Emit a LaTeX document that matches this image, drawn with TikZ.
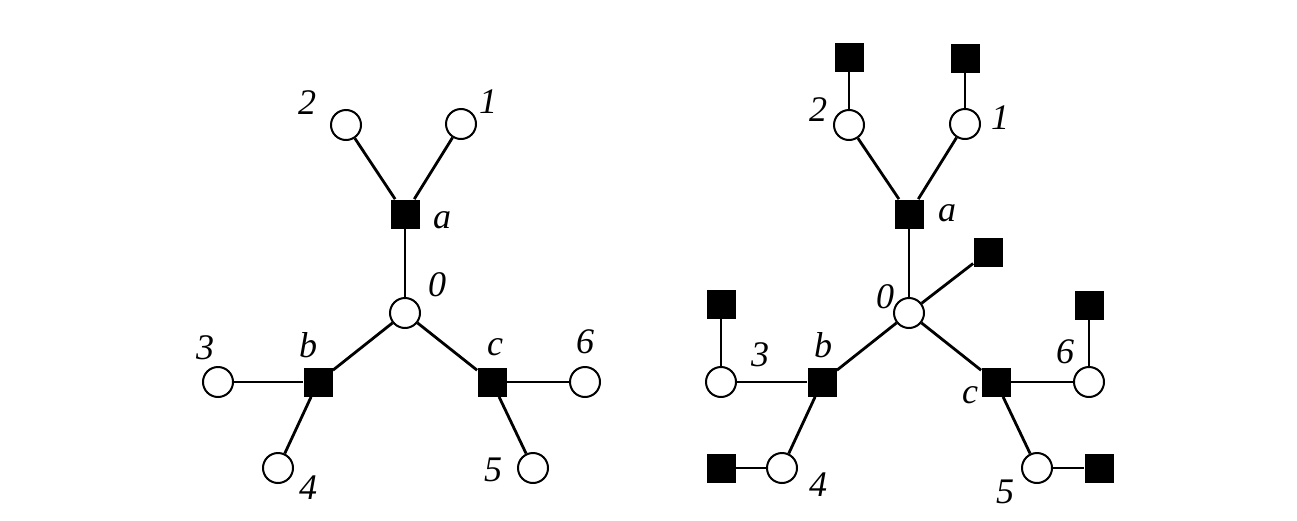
\documentclass[tikz,border=0pt]{standalone}
\usepackage{fontspec}
\setmainfont{Liberation Serif}
\usetikzlibrary{arrows}

\tikzset{
  site/.style={circle, draw, fill=white, line width=1pt, minimum size=15pt, inner sep=0pt},
  bond/.style={rectangle, fill=black, minimum size=14.5pt, inner sep=0pt},
  lbl/.style={font=\fontsize{18}{18}\selectfont\itshape, inner sep=0pt},
  edge/.style={line width=1.4pt}
}

\begin{document}
\begin{tikzpicture}[x=0.5pt,y=-0.5pt]
\useasboundingbox (0,0) rectangle (1297,520);

% left graph
\node[site] (0) at (405,313) {};
\node[bond] (a) at (405,214) {};
\node[bond] (b) at (318,382) {};
\node[bond] (c) at (492,382) {};
\node[site] (1) at (461,124) {};
\node[site] (2) at (346,125) {};
\node[site] (3) at (218,382) {};
\node[site] (4) at (278,468) {};
\node[site] (5) at (533,468) {};
\node[site] (6) at (585,382) {};

\node[lbl] (l0) at (437,285) {0};
\node[lbl] (la) at (442,220) {a};
\node[lbl] (lb) at (308,345) {b};
\node[lbl] (lc) at (495,347) {c};
\node[lbl] (l1) at (488,102) {1};
\node[lbl] (l2) at (307,103) {2};
\node[lbl] (l3) at (205,348) {3};
\node[lbl] (l4) at (308,488) {4};
\node[lbl] (l5) at (493,470) {5};
\node[lbl] (l6) at (585,342) {6};

\draw[edge] (0) -- (a);
\draw[edge] (0) -- (b);
\draw[edge] (0) -- (c);
\draw[edge] (a) -- (1);
\draw[edge] (a) -- (2);
\draw[edge] (b) -- (3);
\draw[edge] (b) -- (4);
\draw[edge] (c) -- (5);
\draw[edge] (c) -- (6);

% right graph
\node[site] (r0) at (909,313) {};
\node[bond] (ra) at (909,214) {};
\node[bond] (rb) at (822,382) {};
\node[bond] (rc) at (996,382) {};
\node[site] (r1) at (965,124) {};
\node[site] (r2) at (849,125) {};
\node[site] (r3) at (721,382) {};
\node[site] (r4) at (782,468) {};
\node[site] (r5) at (1037,468) {};
\node[site] (r6) at (1089,382) {};

\node[bond] (s0) at (988,252) {};
\node[bond] (s1) at (965,58) {};
\node[bond] (s2) at (849,57) {};
\node[bond] (s3) at (721,304) {};
\node[bond] (s4) at (721,468) {};
\node[bond] (s5) at (1099,468) {};
\node[bond] (s6) at (1089,305) {};

\node[lbl] (rl0) at (885,297) {0};
\node[lbl] (rla) at (947,213) {a};
\node[lbl] (rlb) at (823,345) {b};
\node[lbl] (rlc) at (970,395) {c};
\node[lbl] (rl1) at (1000,118) {1};
\node[lbl] (rl2) at (818,110) {2};
\node[lbl] (rl3) at (760,355) {3};
\node[lbl] (rl4) at (818,485) {4};
\node[lbl] (rl5) at (1005,492) {5};
\node[lbl] (rl6) at (1065,352) {6};

\draw[edge] (r0) -- (ra);
\draw[edge] (r0) -- (rb);
\draw[edge] (r0) -- (rc);
\draw[edge] (r0) -- (s0);
\draw[edge] (ra) -- (r1);
\draw[edge] (ra) -- (r2);
\draw[edge] (rb) -- (r3);
\draw[edge] (rb) -- (r4);
\draw[edge] (rc) -- (r5);
\draw[edge] (rc) -- (r6);
\draw[edge] (r1) -- (s1);
\draw[edge] (r2) -- (s2);
\draw[edge] (r3) -- (s3);
\draw[edge] (r4) -- (s4);
\draw[edge] (r5) -- (s5);
\draw[edge] (r6) -- (s6);

\end{tikzpicture}
\end{document}
